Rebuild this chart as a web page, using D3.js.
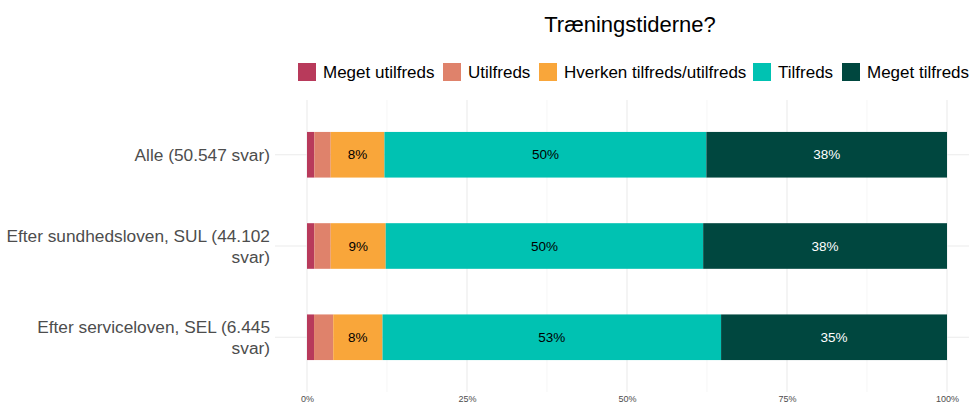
<!DOCTYPE html>
<html>
<head>
<meta charset="utf-8">
<script src="https://cdn.jsdelivr.net/npm/d3@7"></script>
<style>
  body { margin: 0; background: #fff; }
  svg { font-family: "Liberation Sans", Arial, sans-serif; }
</style>
</head>
<body>
<script>
// data
const groups = ["Alle (50.547 svar)", "Efter sundhedsloven, SUL (44.102 svar)", "Efter serviceloven, SEL (6.445 svar)"];
const groupLines = [["Alle (50.547 svar)"], ["Efter sundhedsloven, SUL (44.102", "svar)"], ["Efter serviceloven, SEL (6.445", "svar)"]];
const levels = ["Meget utilfreds", "Utilfreds", "Hverken tilfreds/utilfreds", "Tilfreds", "Meget tilfreds"];
const colors = ["#b83a5b", "#df826b", "#f9a63a", "#00c2b2", "#00473f"];
const labelColors = ["#000", "#000", "#000", "#000", "#fff"];
const megetUtilfreds = [1.14, 1.14, 1.1];
const utilfreds = [2.56, 2.56, 3.0];
const hverken = [8.4, 8.6, 7.7];
const tilfreds = [50.3, 49.6, 52.9];
const megetTilfreds = [37.6, 38.1, 35.3];
const xTicks = [0, 25, 50, 75, 100];
const title = "Træningstiderne?";

const width = 969, height = 407;
const svg = d3.select('body').append('svg')
    .attr('width', width).attr('height', height);

const panel = { left: 275, right: 969, top: 100, bottom: 392 };

const rows = groups.map((g, i) => ({
    group: g,
    [levels[0]]: megetUtilfreds[i],
    [levels[1]]: utilfreds[i],
    [levels[2]]: hverken[i],
    [levels[3]]: tilfreds[i],
    [levels[4]]: megetTilfreds[i]
}));
const series = d3.stack().keys(levels)(rows);

const xScale = d3.scaleLinear().domain([0, 100]).range([307, 947]);
const yScale = d3.scaleBand().domain(groups)
    .range([panel.top, panel.bottom]).paddingInner(0.5).paddingOuter(0.35);

// grid
const grid = svg.append('g');
const minor = [12.5, 37.5, 62.5, 87.5];
grid.selectAll('.minor').data(minor).enter().append('line')
    .attr('x1', d => xScale(d)).attr('x2', d => xScale(d))
    .attr('y1', panel.top).attr('y2', panel.bottom)
    .attr('stroke', '#f0f0f0').attr('stroke-width', 0.6);
grid.selectAll('.major').data(xTicks).enter().append('line')
    .attr('x1', d => xScale(d)).attr('x2', d => xScale(d))
    .attr('y1', panel.top).attr('y2', panel.bottom)
    .attr('stroke', '#ebebeb').attr('stroke-width', 1.1);
grid.selectAll('.hmajor').data(groups).enter().append('line')
    .attr('x1', panel.left).attr('x2', panel.right)
    .attr('y1', d => yScale(d) + yScale.bandwidth() / 2)
    .attr('y2', d => yScale(d) + yScale.bandwidth() / 2)
    .attr('stroke', '#ebebeb').attr('stroke-width', 1.1);

// bars
const layer = svg.append('g').selectAll('g').data(series).enter().append('g')
    .attr('fill', (d, i) => colors[i]);
layer.selectAll('rect').data(d => d).enter().append('rect')
    .attr('x', d => xScale(d[0]))
    .attr('width', d => xScale(d[1]) - xScale(d[0]))
    .attr('y', d => yScale(d.data.group))
    .attr('height', yScale.bandwidth());

// segment labels
series.forEach((s, k) => {
    svg.append('g').selectAll('text').data(s.filter(d => d[1] - d[0] >= 5)).enter().append('text')
        .attr('x', d => xScale((d[0] + d[1]) / 2))
        .attr('y', d => yScale(d.data.group) + yScale.bandwidth() / 2)
        .attr('dy', '0.35em')
        .attr('text-anchor', 'middle')
        .attr('font-size', 13.5)
        .attr('fill', labelColors[k])
        .text(d => Math.round(d[1] - d[0]) + '%');
});

// x axis labels
const xAxis = d3.axisBottom(xScale).tickValues(xTicks).tickSize(0).tickPadding(0)
    .tickFormat(d => d + '%');
svg.append('g').attr('transform', `translate(0,396)`).call(xAxis)
    .call(g => g.select('.domain').remove())
    .selectAll('text').attr('font-size', 9).attr('fill', '#4d4d4d')
    .attr('font-family', '"Liberation Sans", Arial, sans-serif');

// y labels
groups.forEach((g, i) => {
    const lines = groupLines[i];
    const cy = yScale(g) + yScale.bandwidth() / 2;
    const lh = 21;
    const t = svg.append('text')
        .attr('text-anchor', 'end')
        .attr('font-size', 17.3)
        .attr('fill', '#4d4d4d');
    lines.forEach((ln, j) => {
        t.append('tspan').attr('x', 270)
            .attr('y', cy + (j - (lines.length - 1) / 2) * lh)
            .attr('dy', '0.35em').text(ln);
    });
});

// title
svg.append('text').attr('x', 630).attr('y', 32)
    .attr('text-anchor', 'middle').attr('font-size', 22).attr('fill', '#000')
    .text(title);

// legend
const legX = [298, 443, 539, 753, 842];
const legend = svg.append('g').selectAll('g').data(levels).enter().append('g')
    .attr('transform', (d, i) => `translate(${legX[i]},63)`);
legend.append('rect').attr('width', 18).attr('height', 18)
    .attr('fill', (d, i) => colors[i]);
legend.append('text').attr('x', 25).attr('y', 9).attr('dy', '0.35em')
    .attr('font-size', 17).attr('fill', '#000').text(d => d);
</script>
</body>
</html>
